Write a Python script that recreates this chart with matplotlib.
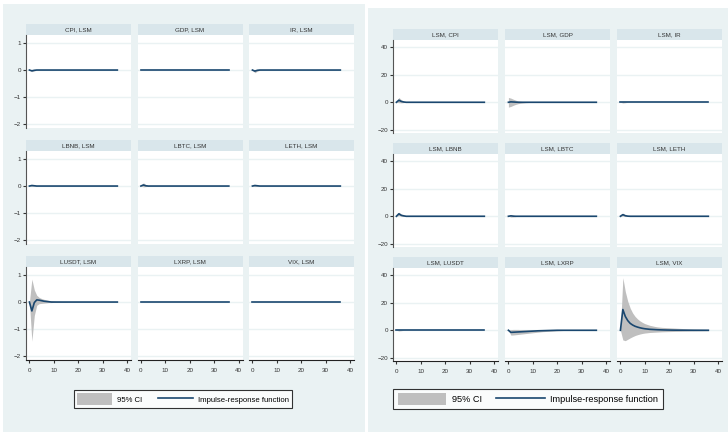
import numpy as np
import matplotlib
matplotlib.use("Agg")
import matplotlib.pyplot as plt
from matplotlib.patches import Rectangle, Patch
from matplotlib.lines import Line2D

plt.rcParams['font.family'] = ['Liberation Sans Narrow', 'Liberation Sans', 'DejaVu Sans']

# horizon (steps 0..36)
steps = np.arange(37)

# left graph: response of each variable to an LSM shock
left_titles = ["CPI, LSM", "GDP, LSM", "IR, LSM",
               "LBNB, LSM", "LBTC, LSM", "LETH, LSM",
               "LUSDT, LSM", "LXRP, LSM", "VIX, LSM"]
left_irf = [[0, -0.03, -0.01, 0], [0], [0, -0.04, -0.01, 0],
            [0, 0.02, 0.01, 0], [0, 0.04, 0.01, 0], [0, 0.02, 0.01, 0],
            [0, -0.33, -0.02, 0.08, 0.07, 0.05, 0.03, 0.02, 0.01, 0], [0], [0]]
left_lo = [[0, -0.06, -0.03, 0], [0], [0, -0.1, -0.04, -0.01, 0],
           [0, -0.01, 0], [0, -0.03, -0.02, 0], [0, -0.02, -0.01, 0],
           [0, -1.45, -0.5, -0.12, -0.06, -0.05, -0.04, -0.03, -0.02, -0.02, -0.01, -0.01, 0],
           [0], [0]]
left_hi = [[0, 0.01, 0.01, 0], [0], [0, 0.02, 0.02, 0],
           [0, 0.05, 0.03, 0.01, 0], [0, 0.12, 0.05, 0.02, 0], [0, 0.06, 0.03, 0],
           [0, 0.85, 0.45, 0.25, 0.17, 0.13, 0.1, 0.08, 0.06, 0.05, 0.04, 0.03, 0.03,
            0.02, 0.02, 0.02, 0.01, 0.01, 0.01, 0.01, 0.01, 0],
           [0], [0]]

# right graph: response of LSM to each variable
right_titles = ["LSM, CPI", "LSM, GDP", "LSM, IR",
                "LSM, LBNB", "LSM, LBTC", "LSM, LETH",
                "LSM, LUSDT", "LSM, LXRP", "LSM, VIX"]
right_irf = [[0, 1.5, 0.6, 0.2, 0], [0, 0.3, 0.2, 0.1, 0], [0],
             [0, 1.8, 0.7, 0.3, 0], [0, 0.3, 0.1, 0], [0, 1.2, 0.4, 0.1, 0],
             [0],
             [0, -1.5, -1.4, -1.3, -1.2, -1.1, -1.0, -0.9, -0.8, -0.7, -0.6, -0.5, -0.4,
              -0.35, -0.3, -0.25, -0.2, -0.15, -0.1, -0.05, 0],
             [0, 15, 10, 7, 5, 3.8, 2.9, 2.3, 1.8, 1.4, 1.1, 0.9, 0.7, 0.6, 0.5, 0.4,
              0.33, 0.27, 0.22, 0.18, 0.15, 0.12, 0.1, 0.08, 0.06, 0.05, 0.04, 0.03,
              0.02, 0.01, 0]]
right_lo = [[0, -0.3, -0.4, -0.2, 0], [-3.5, -3, -2.2, -1.5, -1, -0.7, -0.5, -0.3, -0.2, -0.1, 0],
            [0, -0.5, -0.3, 0], [0, 0.5, 0, -0.1, 0], [0, -0.6, -0.5, -0.2, 0],
            [0, 0.2, -0.1, -0.1, 0], [0, -0.5, -0.3, 0],
            [0, -3.5, -3.4, -3.2, -3.0, -2.8, -2.6, -2.4, -2.2, -2.0, -1.8, -1.6, -1.4,
             -1.2, -1.0, -0.9, -0.8, -0.7, -0.6, -0.5, -0.4, -0.3, -0.2, -0.1, 0],
            [0, -7, -7.5, -6.5, -5.5, -4.6, -3.8, -3.2, -2.7, -2.3, -2.0, -1.8, -1.6,
             -1.5, -1.4, -1.3, -1.2, -1.1, -1.05, -1.0, -0.95, -0.9, -0.85, -0.8, -0.75,
             -0.7, -0.65, -0.6, -0.55, -0.5, -0.48, -0.46, -0.44, -0.42, -0.4, -0.38, -0.36]]
right_hi = [[0, 3.5, 1.8, 0.7, 0.2, 0], [3.5, 3, 2.2, 1.5, 1, 0.7, 0.5, 0.3, 0.2, 0.1, 0],
            [0, 0.5, 0.3, 0], [0, 3, 1.5, 0.6, 0.2, 0], [0, 1, 0.6, 0.3, 0],
            [0, 2.2, 1, 0.4, 0.1, 0], [0, 0.5, 0.3, 0],
            [0, 0.5, 0.6, 0.6, 0.6, 0.5, 0.5, 0.4, 0.4, 0.3, 0.3, 0.2, 0.2, 0.1, 0.1, 0],
            [0, 38, 28, 21, 16, 12.5, 10, 8.2, 6.8, 5.7, 4.8, 4.2, 3.6, 3.2, 2.8, 2.5,
             2.3, 2.1, 2.0, 1.9, 1.8, 1.7, 1.6, 1.5, 1.4, 1.3, 1.2, 1.1, 1.0, 0.95, 0.9,
             0.85, 0.8, 0.75, 0.7, 0.65, 0.6]]

NAVY = "#1a476f"
CI_GRAY = "#bfbfbf"
PANEL_BG = "#eaf2f3"
HEAD_BG = "#d9e6eb"
W, H = 728, 432


def pad(vals):
    v = list(vals)
    return np.array(v + [v[-1]] * (len(steps) - len(v)))


def box(x, y, w, h):
    return [x / W, 1 - (y + h) / H, w / W, h / H]


fig = plt.figure(figsize=(7.28, 4.32), dpi=100)
fig.add_artist(Rectangle((3 / W, 0), 362 / W, 1 - 4 / H, transform=fig.transFigure,
                         facecolor=PANEL_BG, edgecolor="none", zorder=-10))
fig.add_artist(Rectangle((368 / W, 0), 360 / W, 1 - 8 / H, transform=fig.transFigure,
                         facecolor=PANEL_BG, edgecolor="none", zorder=-10))


def draw_graph(x0s, y0s, titles, irf, lo, hi, ylim, yticks, legend_x, legend_fs, hlen, hhgt, colsp):
    for i in range(9):
        r, c = divmod(i, 3)
        x, y = x0s[c], y0s[r]
        hax = fig.add_axes(box(x, y, 105, 11))
        hax.set_facecolor(HEAD_BG)
        hax.set_xticks([])
        hax.set_yticks([])
        for s in hax.spines.values():
            s.set_visible(False)
        hax.text(0.5, 0.5, titles[i], ha="center", va="center", fontsize=4.5,
                 color="#333333", transform=hax.transAxes)

        ax = fig.add_axes(box(x, y + 11, 105, 93))
        ax.fill_between(steps, pad(lo[i]), pad(hi[i]), color=CI_GRAY, lw=0, zorder=2)
        ax.plot(steps, pad(irf[i]), color=NAVY, lw=1.2, zorder=3)
        ax.set_xlim(-1.4, 41.6)
        ax.set_ylim(*ylim)
        ax.set_yticks(yticks)
        ax.set_xticks([0, 10, 20, 30, 40])
        ax.grid(axis="y", color=PANEL_BG, lw=1, zorder=1)
        ax.grid(axis="x", visible=False)
        for s in ax.spines.values():
            s.set_visible(False)
        ax.tick_params(labelsize=4.5, colors="#333333", length=2, width=0.8, pad=1.5)
        ax.tick_params(axis="x", pad=4)
        if c == 0:
            ax.spines["left"].set_visible(True)
            ax.spines["left"].set_color("#555555")
        else:
            ax.tick_params(left=False, labelleft=False)
        if r == 2:
            ax.spines["bottom"].set_visible(True)
            ax.spines["bottom"].set_color("#222222")
        else:
            ax.tick_params(bottom=False, labelbottom=False)

    handles = [Patch(facecolor=CI_GRAY, edgecolor="none", label="95% CI"),
               Line2D([], [], color=NAVY, lw=1.2, label="Impulse-response function")]
    leg = fig.legend(handles=handles, loc="center", ncol=2,
                     bbox_to_anchor=(legend_x / W, 1 - 399 / H), fontsize=legend_fs,
                     frameon=True, fancybox=False, edgecolor="black",
                     handlelength=hlen, handleheight=hhgt, columnspacing=colsp,
                     borderpad=0.5, handletextpad=0.6)
    leg.get_frame().set_linewidth(0.8)


draw_graph([26, 137.5, 249], [24, 140, 256], left_titles, left_irf, left_lo, left_hi,
           (-2.15, 1.3), [-2, -1, 0, 1], 183, 5.6, 4.5, 1.8, 2.0)
draw_graph([393, 505, 617], [29, 143, 257], right_titles, right_irf, right_lo, right_hi,
           (-22.2, 45), [-20, 0, 20, 40], 528, 6.6, 5.3, 1.6, 1.6)

fig.savefig("out.png", dpi=100)
